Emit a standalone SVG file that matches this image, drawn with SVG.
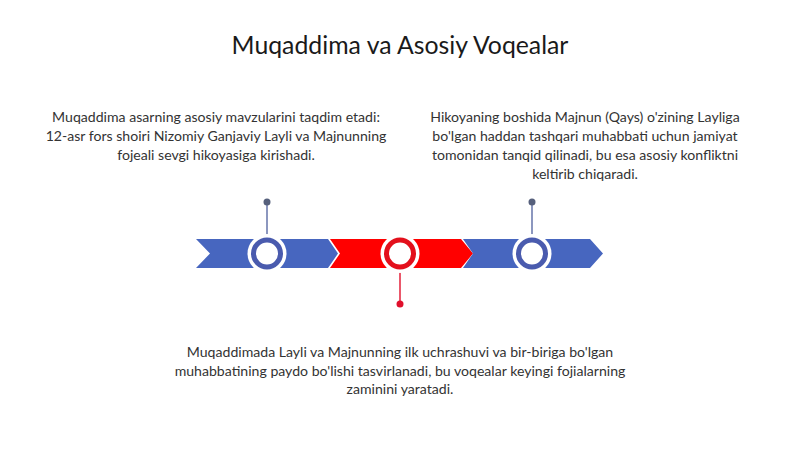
<svg xmlns="http://www.w3.org/2000/svg" width="800" height="449" viewBox="0 0 800 449">
<style>
.t{font-family:Lato,"Noto Sans","Liberation Sans",sans-serif;fill:#333333;font-size:14.1px;text-anchor:middle}
.title{font-family:Lato,"Noto Sans","Liberation Sans",sans-serif;fill:#1a1a1a;font-size:24.8px;text-anchor:middle}
.blue{fill:#4766BF}
.red{fill:#FF0000}
.halo{fill:#FFFFFF}
.ringB{fill:#FFFFFF;stroke:#4A5BAE;stroke-width:5}
.ringR{fill:#FFFFFF;stroke:#E3101C;stroke-width:5}
.pinB{stroke:#6675AA;stroke-width:1.5}
.pinR{stroke:#E3203A;stroke-width:1.5}
.dotB{fill:#56607C}
.dotR{fill:#E0102C}
</style>
<rect width="800" height="449" fill="#FFFFFF"/>
<text class="title" x="400" y="54">Muqaddima va Asosiy Voqealar</text>
<g id="band">
<polygon class="blue" points="196,239 328,239 338,253.5 328,268 196,268 210,253.5"/>
<polygon class="red" points="330,239 461,239 473,253.5 461,268 330,268 340,253.5"/>
<polygon class="blue" points="463,239 590,239 603,253.5 590,268 463,268 473,253.5"/>
</g>
<g id="connectors">
<line class="pinB" x1="267" y1="202" x2="267" y2="236"/>
<circle class="dotB" cx="267" cy="202" r="3.5"/>
<line class="pinR" x1="400" y1="271" x2="400" y2="304"/>
<circle class="dotR" cx="400" cy="304" r="3.5"/>
<line class="pinB" x1="532" y1="202" x2="532" y2="236"/>
<circle class="dotB" cx="532" cy="202" r="3.5"/>
</g>
<g id="node1">
<circle class="halo" cx="267" cy="253.5" r="19.5"/>
<circle class="ringB" cx="267" cy="253.5" r="13.5"/>
<text class="t" x="216" y="122">Muqaddima asarning asosiy mavzularini taqdim etadi:</text>
<text class="t" x="216" y="141">12-asr fors shoiri Nizomiy Ganjaviy Layli va Majnunning</text>
<text class="t" x="216" y="160">fojeali sevgi hikoyasiga kirishadi.</text>
</g>
<g id="node2">
<circle class="halo" cx="400" cy="253.5" r="19.5"/>
<circle class="ringR" cx="400" cy="253.5" r="13.5"/>
<text class="t" x="400" y="357">Muqaddimada Layli va Majnunning ilk uchrashuvi va bir-biriga bo'lgan</text>
<text class="t" x="400" y="375.5">muhabbatining paydo bo'lishi tasvirlanadi, bu voqealar keyingi fojialarning</text>
<text class="t" x="400" y="394">zaminini yaratadi.</text>
</g>
<g id="node3">
<circle class="halo" cx="532" cy="253.5" r="19.5"/>
<circle class="ringB" cx="532" cy="253.5" r="13.5"/>
<text class="t" x="585" y="122">Hikoyaning boshida Majnun (Qays) o'zining Layliga</text>
<text class="t" x="585" y="141">bo'lgan haddan tashqari muhabbati uchun jamiyat</text>
<text class="t" x="585" y="160">tomonidan tanqid qilinadi, bu esa asosiy konfliktni</text>
<text class="t" x="585" y="178.5">keltirib chiqaradi.</text>
</g>
</svg>
